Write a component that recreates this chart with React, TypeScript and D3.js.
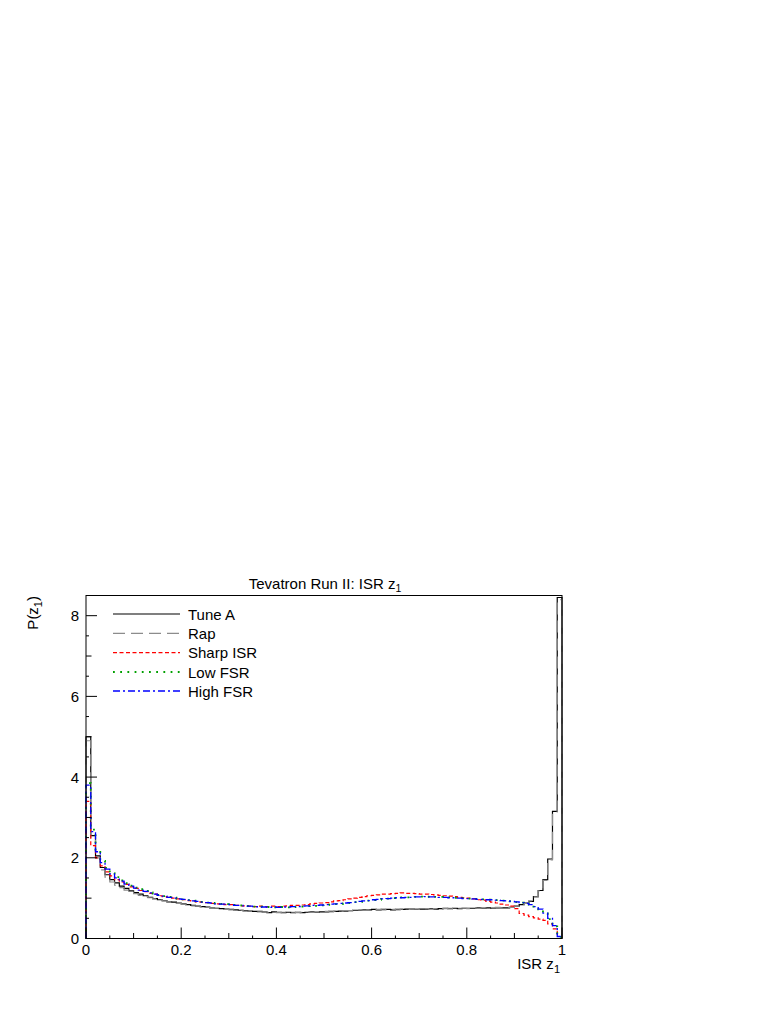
import React from 'react';
import * as d3 from 'd3';

// 100 bins of width 0.01 on [0, 1]
const binEdges = d3.range(0, 101).map(i => i / 100);

const tuneA = [
  5.00, 2.55, 2.05, 1.76, 1.58, 1.46, 1.38, 1.30, 1.24, 1.18,
  1.14, 1.10, 1.06, 1.02, 0.99, 0.96, 0.94, 0.91, 0.90, 0.88,
  0.86, 0.84, 0.82, 0.80, 0.79, 0.78, 0.76, 0.75, 0.74, 0.73,
  0.72, 0.71, 0.70, 0.69, 0.68, 0.67, 0.67, 0.66, 0.64, 0.66,
  0.65, 0.64, 0.65, 0.64, 0.65, 0.64, 0.65, 0.66, 0.65, 0.66,
  0.66, 0.67, 0.67, 0.68, 0.68, 0.69, 0.70, 0.70, 0.71, 0.71,
  0.72, 0.71, 0.72, 0.72, 0.71, 0.72, 0.72, 0.73, 0.73, 0.72,
  0.73, 0.73, 0.74, 0.73, 0.74, 0.75, 0.74, 0.75, 0.74, 0.75,
  0.75, 0.75, 0.76, 0.75, 0.76, 0.75, 0.76, 0.76, 0.76, 0.77,
  0.80, 0.84, 0.88, 0.92, 1.04, 1.19, 1.46, 1.97, 3.15, 8.45,
];

const rap = [
  4.90, 2.50, 2.00, 1.70, 1.52, 1.40, 1.32, 1.26, 1.20, 1.15,
  1.11, 1.07, 1.04, 1.01, 0.98, 0.95, 0.93, 0.91, 0.89, 0.87,
  0.85, 0.83, 0.81, 0.80, 0.78, 0.77, 0.76, 0.75, 0.74, 0.72,
  0.71, 0.70, 0.70, 0.68, 0.68, 0.67, 0.66, 0.66, 0.65, 0.65,
  0.64, 0.65, 0.64, 0.65, 0.64, 0.65, 0.66, 0.65, 0.66, 0.66,
  0.67, 0.66, 0.68, 0.68, 0.69, 0.69, 0.70, 0.71, 0.70, 0.71,
  0.71, 0.72, 0.71, 0.72, 0.72, 0.71, 0.73, 0.72, 0.73, 0.73,
  0.72, 0.74, 0.73, 0.74, 0.73, 0.74, 0.75, 0.74, 0.75, 0.75,
  0.74, 0.76, 0.75, 0.76, 0.75, 0.76, 0.77, 0.76, 0.77, 0.77,
  0.80, 0.83, 0.87, 0.93, 1.03, 1.18, 1.44, 1.95, 3.12, 8.40,
];

const sharpISR = [
  3.40, 2.30, 2.00, 1.80, 1.65, 1.55, 1.46, 1.40, 1.34, 1.28,
  1.24, 1.19, 1.16, 1.12, 1.10, 1.06, 1.04, 1.02, 1.00, 0.98,
  0.96, 0.94, 0.93, 0.91, 0.90, 0.89, 0.87, 0.86, 0.85, 0.84,
  0.84, 0.82, 0.81, 0.81, 0.80, 0.79, 0.80, 0.79, 0.79, 0.80,
  0.79, 0.80, 0.81, 0.82, 0.82, 0.83, 0.84, 0.86, 0.87, 0.88,
  0.89, 0.91, 0.93, 0.94, 0.96, 0.98, 1.00, 1.02, 1.04, 1.06,
  1.07, 1.08, 1.10, 1.10, 1.11, 1.12, 1.13, 1.12, 1.12, 1.11,
  1.10, 1.10, 1.09, 1.08, 1.07, 1.06, 1.05, 1.04, 1.02, 1.01,
  1.00, 0.98, 0.96, 0.95, 0.92, 0.90, 0.88, 0.85, 0.83, 0.80,
  0.74, 0.62, 0.58, 0.54, 0.51, 0.48, 0.45, 0.36, 0.24, 0.05,
];

const lowFSR = [
  3.85, 2.70, 2.20, 1.92, 1.75, 1.62, 1.52, 1.44, 1.37, 1.31,
  1.26, 1.22, 1.18, 1.14, 1.11, 1.08, 1.05, 1.03, 1.01, 0.99,
  0.97, 0.95, 0.94, 0.92, 0.91, 0.89, 0.88, 0.87, 0.86, 0.85,
  0.84, 0.83, 0.82, 0.81, 0.80, 0.79, 0.79, 0.78, 0.78, 0.77,
  0.77, 0.78, 0.77, 0.78, 0.79, 0.79, 0.80, 0.81, 0.81, 0.82,
  0.83, 0.84, 0.85, 0.86, 0.87, 0.88, 0.90, 0.91, 0.92, 0.94,
  0.95, 0.96, 0.98, 0.99, 1.00, 1.01, 1.02, 1.02, 1.03, 1.03,
  1.04, 1.03, 1.04, 1.03, 1.03, 1.02, 1.02, 1.01, 1.00, 1.00,
  0.99, 0.98, 0.98, 0.97, 0.96, 0.95, 0.95, 0.94, 0.93, 0.92,
  0.90, 0.89, 0.87, 0.84, 0.79, 0.72, 0.62, 0.48, 0.30, 0.04,
];

const highFSR = [
  3.80, 2.65, 2.15, 1.88, 1.72, 1.60, 1.50, 1.42, 1.35, 1.30,
  1.25, 1.20, 1.17, 1.13, 1.10, 1.07, 1.05, 1.02, 1.00, 0.98,
  0.97, 0.95, 0.93, 0.92, 0.90, 0.89, 0.88, 0.86, 0.85, 0.85,
  0.84, 0.82, 0.82, 0.80, 0.80, 0.79, 0.78, 0.78, 0.77, 0.78,
  0.77, 0.78, 0.78, 0.79, 0.79, 0.80, 0.81, 0.82, 0.82, 0.83,
  0.84, 0.85, 0.86, 0.87, 0.88, 0.89, 0.90, 0.92, 0.93, 0.94,
  0.96, 0.97, 0.98, 0.99, 1.00, 1.01, 1.01, 1.02, 1.02, 1.03,
  1.03, 1.04, 1.03, 1.03, 1.02, 1.02, 1.01, 1.01, 1.00, 0.99,
  0.99, 0.98, 0.97, 0.97, 0.96, 0.96, 0.95, 0.94, 0.93, 0.92,
  0.91, 0.89, 0.87, 0.84, 0.79, 0.73, 0.63, 0.50, 0.32, 0.05,
];

const seriesNames = ['Tune A', 'Rap', 'Sharp ISR', 'Low FSR', 'High FSR'];
const seriesValues = [tuneA, rap, sharpISR, lowFSR, highFSR];
const seriesColors = ['#000000', '#8c8c8c', '#ff0000', '#00a000', '#0000ff'];
const seriesDash = ['', '12,6', '4,2.5', '1.8,5.4', '7,3,2,3'];
const seriesWidth = [1.2, 1.2, 1.2, 1.8, 1.3];

const xTickLabels = ['0', '0.2', '0.4', '0.6', '0.8', '1'];
const yTickLabels = ['0', '2', '4', '6', '8'];

const W = 782, H = 1012;
const frame = { left: 86, right: 562, top: 595.5, bottom: 938.5 };
const font = '"Liberation Sans", Arial, Helvetica, sans-serif';

export default function App() {
  const x = d3.scaleLinear().domain([0, 1]).range([frame.left, frame.right]);
  const y = d3.scaleLinear().domain([0, 8.5]).range([frame.bottom, frame.top]);

  const stepPath = (vals: number[]) => {
    const p = d3.path();
    p.moveTo(x(binEdges[0]), y(0));
    vals.forEach((v, i) => {
      p.lineTo(x(binEdges[i]), y(v));
      p.lineTo(x(binEdges[i + 1]), y(v));
    });
    p.lineTo(x(binEdges[vals.length]), y(0));
    return p.toString();
  };

  const xTicks = d3.range(0, 21).map(i => i * 0.05);
  const yTicks = d3.range(0, 18).map(i => i * 0.5);

  const legendX0 = 113, legendX1 = 180, legendText = 188;
  const legendRows = [614, 633.3, 652.7, 672, 691];

  return (
    <svg width={W} height={H} style={{ position: 'absolute', left: 0, top: 0, background: '#fff' }} fontFamily={font}>
      <rect x={0} y={0} width={W} height={H} fill="#fff" />
      <defs>
        <clipPath id="plotclip">
          <rect x={frame.left - 1} y={frame.top} width={frame.right - frame.left + 2} height={frame.bottom - frame.top + 1} />
        </clipPath>
      </defs>

      {/* histograms */}
      <g clipPath="url(#plotclip)">
        {seriesValues.map((vals, k) => (
          <path key={k} d={stepPath(vals)} fill="none" stroke={seriesColors[k]}
            strokeWidth={seriesWidth[k]} strokeDasharray={seriesDash[k] || undefined} />
        ))}
      </g>

      {/* frame */}
      <rect x={frame.left} y={frame.top} width={frame.right - frame.left} height={frame.bottom - frame.top}
        fill="none" stroke="#000" strokeWidth={1} />

      {/* x axis ticks */}
      {xTicks.map((t, i) => {
        const len = i % 4 === 0 ? 11 : i % 2 === 0 ? 5.5 : 3;
        return <line key={i} x1={x(t)} x2={x(t)} y1={frame.bottom} y2={frame.bottom - len} stroke="#000" strokeWidth={1} />;
      })}
      {xTickLabels.map((lab, i) => (
        <text key={lab} x={x(i * 0.2)} y={955} fontSize={15} textAnchor="middle">{lab}</text>
      ))}

      {/* y axis ticks */}
      {yTicks.map((t, i) => {
        const len = i % 4 === 0 ? 11 : i % 2 === 0 ? 5.5 : 3;
        return <line key={i} x1={frame.left} x2={frame.left + len} y1={y(t)} y2={y(t)} stroke="#000" strokeWidth={1} />;
      })}
      {yTickLabels.map((lab, i) => (
        <text key={lab} x={79} y={y(i * 2) + 5.5} fontSize={15} textAnchor="end">{lab}</text>
      ))}

      {/* titles */}
      <text x={325} y={588.5} fontSize={15} textAnchor="middle">
        Tevatron Run II: ISR z<tspan fontSize={10.5} dy={3.5}>1</tspan>
      </text>
      <text x={560} y={969} fontSize={15} textAnchor="end">
        ISR z<tspan fontSize={11} dy={4}>1</tspan>
      </text>
      <text transform="translate(38,596) rotate(-90)" fontSize={15} textAnchor="end">
        P(z<tspan fontSize={11} dy={4}>1</tspan><tspan dy={-4}>)</tspan>
      </text>

      {/* legend */}
      {seriesNames.map((name, k) => (
        <g key={name}>
          <line x1={legendX0} x2={legendX1} y1={legendRows[k]} y2={legendRows[k]}
            stroke={seriesColors[k]} strokeWidth={seriesWidth[k]} strokeDasharray={seriesDash[k] || undefined} />
          <text x={legendText} y={legendRows[k] + 5.5} fontSize={15}>{name}</text>
        </g>
      ))}
    </svg>
  );
}
